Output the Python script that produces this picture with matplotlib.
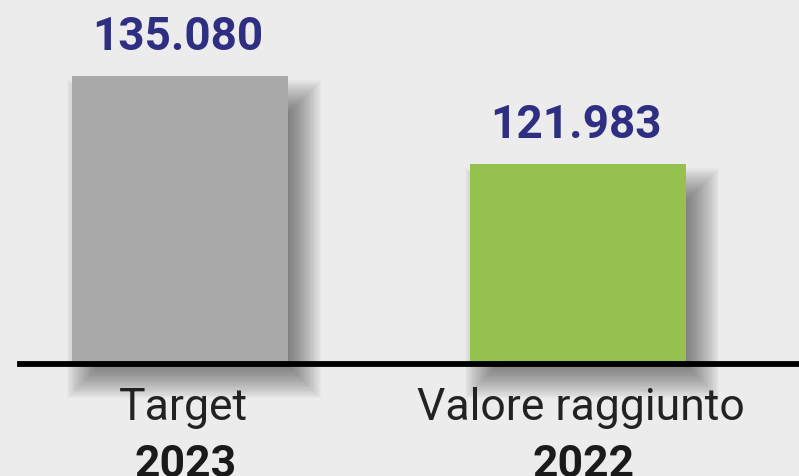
import matplotlib.pyplot as plt
import numpy as np

# data
categories = ["Target", "Valore raggiunto"]
years = ["2023", "2022"]
values = [135080, 121983]
value_labels = ["135.080", "121.983"]
colors = ["#a9a9a9", "#95c24e"]

BG = "#ececec"
BLUE = "#2e2e82"

plt.rcParams['font.family'] = ['Roboto', 'DejaVu Sans']

fig = plt.figure(figsize=(7.99, 4.77), dpi=100, facecolor=BG)
ax = fig.add_axes([0, 0, 1, 1])
ax.set_facecolor(BG)

# axis range chosen so the bars do not start at zero (like the original)
base = 92600
px = 148.8  # value units per pixel
ax.set_ylim(base - 115 * px, base + 362 * px)
ax.set_xlim(-0.4523, 1.5553)
ax.axis('off')

x = np.arange(len(values))
width = 0.5427
dx = 1 / 398  # one pixel in x units

# soft drop shadow: stacked translucent rectangles
n = 32
r = 20
for i, v in enumerate(values):
    for k in range(n):
        grow = r * (1 - 2 * (k + 0.5) / n)
        w = width + 2 * grow * dx
        bottom = base - (18 + grow) * px
        top = v - (24 - grow) * px
        ax.bar(x[i] + 14 * dx, top - bottom, width=w, bottom=bottom,
               color='black', alpha=0.018, lw=0, zorder=1)

ax.bar(x, np.array(values) - base, width=width, bottom=base, color=colors,
       lw=0, zorder=3)

ax.axhline(base - 2.5 * px, xmin=20 / 799, xmax=1, color='black', lw=4.2,
           zorder=4)

for i, v in enumerate(values):
    ax.text(x[i] - 2 * dx, v + 27 * px, value_labels[i], ha='center',
            va='baseline', fontsize=33, fontweight='bold', color=BLUE,
            zorder=5)
    ax.text(x[i] + 3 * dx, base - 58 * px, categories[i], ha='center',
            va='baseline', fontsize=32, fontweight='normal', color='#222222',
            zorder=5)
    ax.text(x[i] + 6 * dx, base - 115 * px, years[i], ha='center',
            va='baseline', fontsize=32, fontweight='bold', color='#1a1a1a',
            zorder=5)

fig.savefig("out.png", dpi=100, facecolor=BG)
